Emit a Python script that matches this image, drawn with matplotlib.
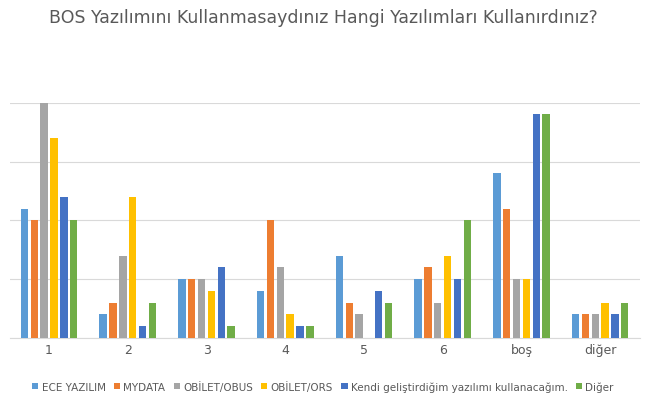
import matplotlib
matplotlib.use("Agg")
import matplotlib.pyplot as plt
import numpy as np

categories = ["1", "2", "3", "4", "5", "6", "boş", "diğer"]
series_names = ["ECE YAZILIM", "MYDATA", "OBİLET/OBUS", "OBİLET/ORS",
                "Kendi geliştirdiğim yazılımı kullanacağım.", "Diğer"]
values = {
    "ECE YAZILIM": [11, 2, 5, 4, 7, 5, 14, 2],
    "MYDATA": [10, 3, 5, 10, 3, 6, 11, 2],
    "OBİLET/OBUS": [20, 7, 5, 6, 2, 3, 5, 2],
    "OBİLET/ORS": [17, 12, 4, 2, 0, 7, 5, 3],
    "Kendi geliştirdiğim yazılımı kullanacağım.": [12, 1, 6, 1, 4, 5, 19, 2],
    "Diğer": [10, 3, 1, 1, 3, 10, 19, 3],
}
colors = ["#5B9BD5", "#ED7D31", "#A5A5A5", "#FFC000", "#4472C4", "#70AD47"]

fig = plt.figure(figsize=(6.46, 4.02), dpi=100)
ax = fig.add_axes([0.015, 0.157, 0.975, 0.585])
x = np.arange(len(categories))
w = 0.125
for i, name in enumerate(series_names):
    ax.bar(x + (i - 2.5) * w, values[name], w * 0.75, color=colors[i], label=name, zorder=3)
ax.set_ylim(0, 20)
ax.set_xlim(-0.5, len(categories) - 0.5)
ax.set_yticks([0, 5, 10, 15, 20])
ax.set_yticklabels([])
ax.tick_params(axis="y", length=0)
ax.tick_params(axis="x", length=0, labelsize=9, colors="#595959")
ax.set_xticks(x)
ax.set_xticklabels(categories)
ax.grid(axis="y", color="#D9D9D9", lw=0.8, zorder=0)
for s in ["top", "right", "left"]:
    ax.spines[s].set_visible(False)
ax.spines["bottom"].set_color("#D9D9D9")
fig.text(0.5, 0.955, "BOS Yazılımını Kullanmasaydınız Hangi Yazılımları Kullanırdınız?",
         ha="center", va="center", fontsize=12.5, color="#595959")
fig.legend(loc="lower center", bbox_to_anchor=(0.5, 0.0), ncol=6, frameon=False,
           fontsize=7.5, handlelength=0.6, handleheight=0.6, columnspacing=0.8,
           handletextpad=0.3, labelcolor="#595959")
fig.savefig("out.png", dpi=100)
